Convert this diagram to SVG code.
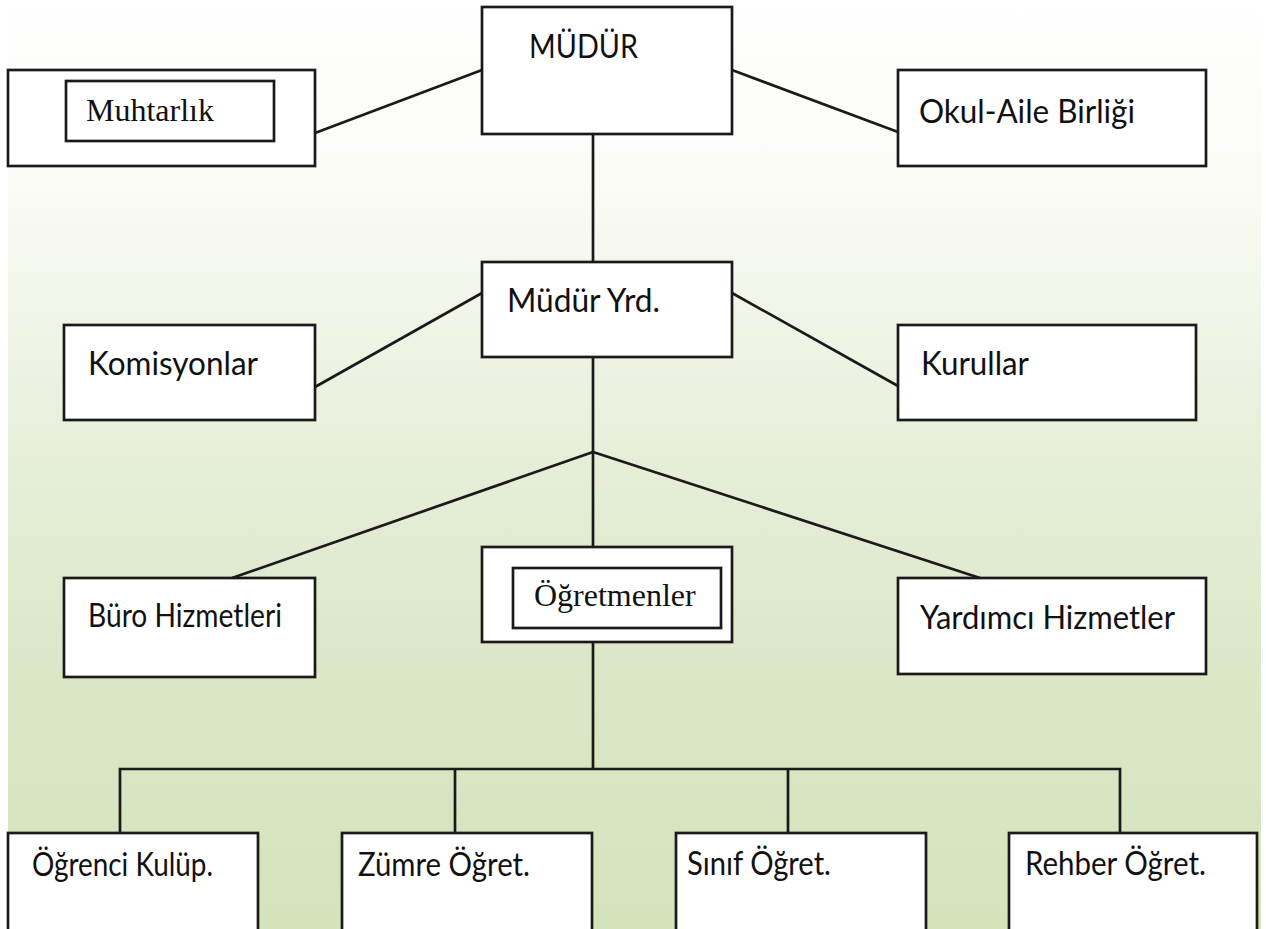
<svg xmlns="http://www.w3.org/2000/svg" width="1266" height="929" viewBox="0 0 1266 929">
<defs>
<linearGradient id="bg" x1="0" y1="0" x2="0" y2="1">
<stop offset="0" stop-color="#ffffff"/>
<stop offset="0.2" stop-color="#fafbf5"/>
<stop offset="0.5" stop-color="#e6eed8"/>
<stop offset="0.75" stop-color="#dae6c6"/>
<stop offset="1" stop-color="#d5e3bb"/>
</linearGradient>
<style>
.box{fill:#ffffff;stroke:#1a1a1a;stroke-width:2.7}
.ln{stroke:#1a1a1a;stroke-width:2.7;fill:none}
.t{font-family:Lato,"Open Sans",sans-serif;font-size:33px;fill:#111}
.s{font-family:"Liberation Serif","Times New Roman",serif;font-size:32px;fill:#111}
</style>
</defs>
<rect x="0" y="0" width="1266" height="929" fill="#ffffff"/>
<rect x="8" y="0" width="1253" height="929" fill="url(#bg)"/>
<g id="connectors">
<line class="ln" x1="482" y1="70" x2="315" y2="133"/>
<line class="ln" x1="732" y1="70" x2="898" y2="132"/>
<line class="ln" x1="593" y1="134" x2="593" y2="262"/>
<line class="ln" x1="482" y1="293" x2="315" y2="387"/>
<line class="ln" x1="732" y1="293" x2="898" y2="386"/>
<line class="ln" x1="593" y1="357" x2="593" y2="547"/>
<line class="ln" x1="593" y1="452" x2="232" y2="578"/>
<line class="ln" x1="593" y1="452" x2="980" y2="578"/>
<line class="ln" x1="593" y1="642" x2="593" y2="769"/>
<polyline class="ln" points="120,833 120,769 1120,769 1120,833"/>
<line class="ln" x1="455" y1="769" x2="455" y2="833"/>
<line class="ln" x1="788" y1="769" x2="788" y2="833"/>
</g>
<g id="mudur">
<rect class="box" x="482" y="7" width="250" height="127"/>
<text class="t" x="529" y="58" textLength="109" lengthAdjust="spacingAndGlyphs">MÜDÜR</text>
</g>
<g id="muhtarlik">
<rect class="box" x="8" y="70" width="307" height="96"/>
<rect class="box" x="66" y="81" width="208" height="60"/>
<text class="s" x="86" y="121">Muhtarlık</text>
</g>
<g id="okul-aile">
<rect class="box" x="898" y="70" width="308" height="96"/>
<text class="t" x="919" y="123" textLength="216" lengthAdjust="spacingAndGlyphs">Okul-Aile Birliği</text>
</g>
<g id="mudur-yrd">
<rect class="box" x="482" y="262" width="250" height="95"/>
<text class="t" x="507" y="312" textLength="153" lengthAdjust="spacingAndGlyphs">Müdür Yrd.</text>
</g>
<g id="komisyonlar">
<rect class="box" x="64" y="325" width="251" height="95"/>
<text class="t" x="88" y="375" textLength="170" lengthAdjust="spacingAndGlyphs">Komisyonlar</text>
</g>
<g id="kurullar">
<rect class="box" x="898" y="325" width="298" height="95"/>
<text class="t" x="921" y="375" textLength="108" lengthAdjust="spacingAndGlyphs">Kurullar</text>
</g>
<g id="buro">
<rect class="box" x="64" y="578" width="251" height="99"/>
<text class="t" x="88" y="627" textLength="194" lengthAdjust="spacingAndGlyphs">Büro Hizmetleri</text>
</g>
<g id="ogretmenler">
<rect class="box" x="482" y="547" width="250" height="95"/>
<rect class="box" x="513" y="568" width="208" height="60"/>
<text class="s" x="534" y="606">Öğretmenler</text>
</g>
<g id="yardimci">
<rect class="box" x="898" y="578" width="308" height="96"/>
<text class="t" x="920" y="629" textLength="255" lengthAdjust="spacingAndGlyphs">Yardımcı Hizmetler</text>
</g>
<g id="ogrenci-kulup">
<rect class="box" x="8" y="833" width="250" height="100"/>
<text class="t" x="32" y="876" textLength="181" lengthAdjust="spacingAndGlyphs">Öğrenci Kulüp.</text>
</g>
<g id="zumre">
<rect class="box" x="342" y="833" width="250" height="100"/>
<text class="t" x="358" y="876" textLength="172" lengthAdjust="spacingAndGlyphs">Zümre Öğret.</text>
</g>
<g id="sinif">
<rect class="box" x="676" y="833" width="250" height="100"/>
<text class="t" x="687" y="875" textLength="144" lengthAdjust="spacingAndGlyphs">Sınıf Öğret.</text>
</g>
<g id="rehber">
<rect class="box" x="1009" y="833" width="248" height="100"/>
<text class="t" x="1025" y="875" textLength="181" lengthAdjust="spacingAndGlyphs">Rehber Öğret.</text>
</g>
</svg>
